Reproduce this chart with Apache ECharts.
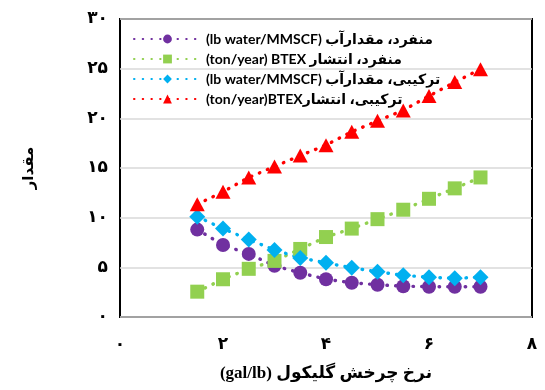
<!DOCTYPE html>
<html>
<head>
<meta charset="utf-8">
<script src="https://cdn.jsdelivr.net/npm/echarts@6/dist/echarts.min.js"></script>
<style>
html,body{margin:0;padding:0;background:#fff;}
#chart{width:545px;height:390px;}
</style>
</head>
<body>
<div id="chart"></div>
<script>
// ---- data ----
const xValues = [1.5, 2, 2.5, 3, 3.5, 4, 4.5, 5, 5.5, 6, 6.5, 7];
const singleWater = [8.8, 7.25, 6.35, 5.15, 4.45, 3.8, 3.45, 3.25, 3.1, 3.05, 3.05, 3.05];
const singleBTEX = [2.55, 3.8, 4.85, 5.65, 6.85, 8.05, 8.9, 9.85, 10.8, 11.9, 12.95, 14.05];
const combinedWater = [10.1, 8.9, 7.8, 6.75, 5.95, 5.45, 4.95, 4.55, 4.2, 4.0, 3.9, 4.0];
const combinedBTEX = [11.35, 12.6, 14.05, 15.15, 16.25, 17.3, 18.65, 19.75, 20.8, 22.25, 23.65, 24.95];
const seriesNames = [
  '(lb water/MMSCF) منفرد، مقدارآب',
  '(ton/year) BTEX منفرد، انتشار',
  '(lb water/MMSCF) ترکیبی، مقدارآب',
  '(ton/year)BTEXترکیبی، انتشار'
];
const xTickLabels = ['۰', '۲', '۴', '۶', '۸'];
const yTickLabels = ['۰', '۵', '۱۰', '۱۵', '۲۰', '۲۵', '۳۰'];
const xAxisTitle = '(gal/lb) نرخ چرخش گلیکول';
const yAxisTitle = 'مقدار';

// ---- chart ----
const colors = ['#7030A0', '#92D050', '#00B0F0', '#FF0000'];
const symbols = ['circle', 'rect', 'diamond', 'triangle'];
const symbolSizes = [14, 14, 16, [15, 14]];
const allData = [singleWater, singleBTEX, combinedWater, combinedBTEX];

const chart = echarts.init(document.getElementById('chart'), null, {renderer: 'canvas'});
const series = allData.map((vals, i) => ({
  name: seriesNames[i],
  type: 'line',
  data: xValues.map((x, j) => [x, vals[j]]),
  symbol: symbols[i],
  symbolSize: symbolSizes[i],
  showAllSymbol: true,
  itemStyle: {color: colors[i]},
  lineStyle: {color: colors[i], width: 3.4, type: [0.5, 8.2], cap: 'round'},
  emphasis: {disabled: true},
  animation: false
}));

chart.setOption({
  animation: false,
  backgroundColor: '#fff',
  grid: {left: 120, right: 13, top: 19, bottom: 73, show: true, borderColor: '#000', borderWidth: 2, backgroundColor: 'transparent'},
  legend: {
    orient: 'vertical',
    left: 133,
    top: 32,
    itemWidth: 67,
    itemHeight: 11,
    itemGap: 6,
    padding: 0,
    selectedMode: false,
    textStyle: {fontFamily: 'Lato, "DejaVu Sans", sans-serif', fontWeight: 'bold', fontSize: 14, color: '#000', padding: [0, 0, 0, 0]},
    data: seriesNames
  },
  xAxis: {
    type: 'value', min: 0, max: 8, interval: 2,
    name: xAxisTitle, nameLocation: 'middle', nameGap: 48,
    nameTextStyle: {fontFamily: '"Liberation Serif", "DejaVu Sans", serif', fontWeight: 'bold', fontSize: 17, color: '#000'},
    axisLine: {show: false}, axisTick: {show: false}, splitLine: {show: false},
    axisLabel: {margin: 19, fontFamily: '"DejaVu Sans", sans-serif', fontWeight: 'bold', fontSize: 17, color: '#000',
      formatter: v => xTickLabels[Math.round(v / 2)]}
  },
  yAxis: {
    type: 'value', min: 0, max: 30, interval: 5,
    name: yAxisTitle, nameLocation: 'middle', nameGap: 83, nameRotate: 90,
    nameTextStyle: {fontFamily: '"DejaVu Sans", sans-serif', fontWeight: 'bold', fontSize: 15, color: '#000'},
    axisLine: {show: false}, axisTick: {show: false},
    splitLine: {show: true, lineStyle: {color: '#D9D9D9', width: 1.5}},
    axisLabel: {margin: 12, fontFamily: '"DejaVu Sans", sans-serif', fontWeight: 'bold', fontSize: 17, color: '#000',
      formatter: v => yTickLabels[Math.round(v / 5)]}
  },
  series: series
});
</script>
</body>
</html>
